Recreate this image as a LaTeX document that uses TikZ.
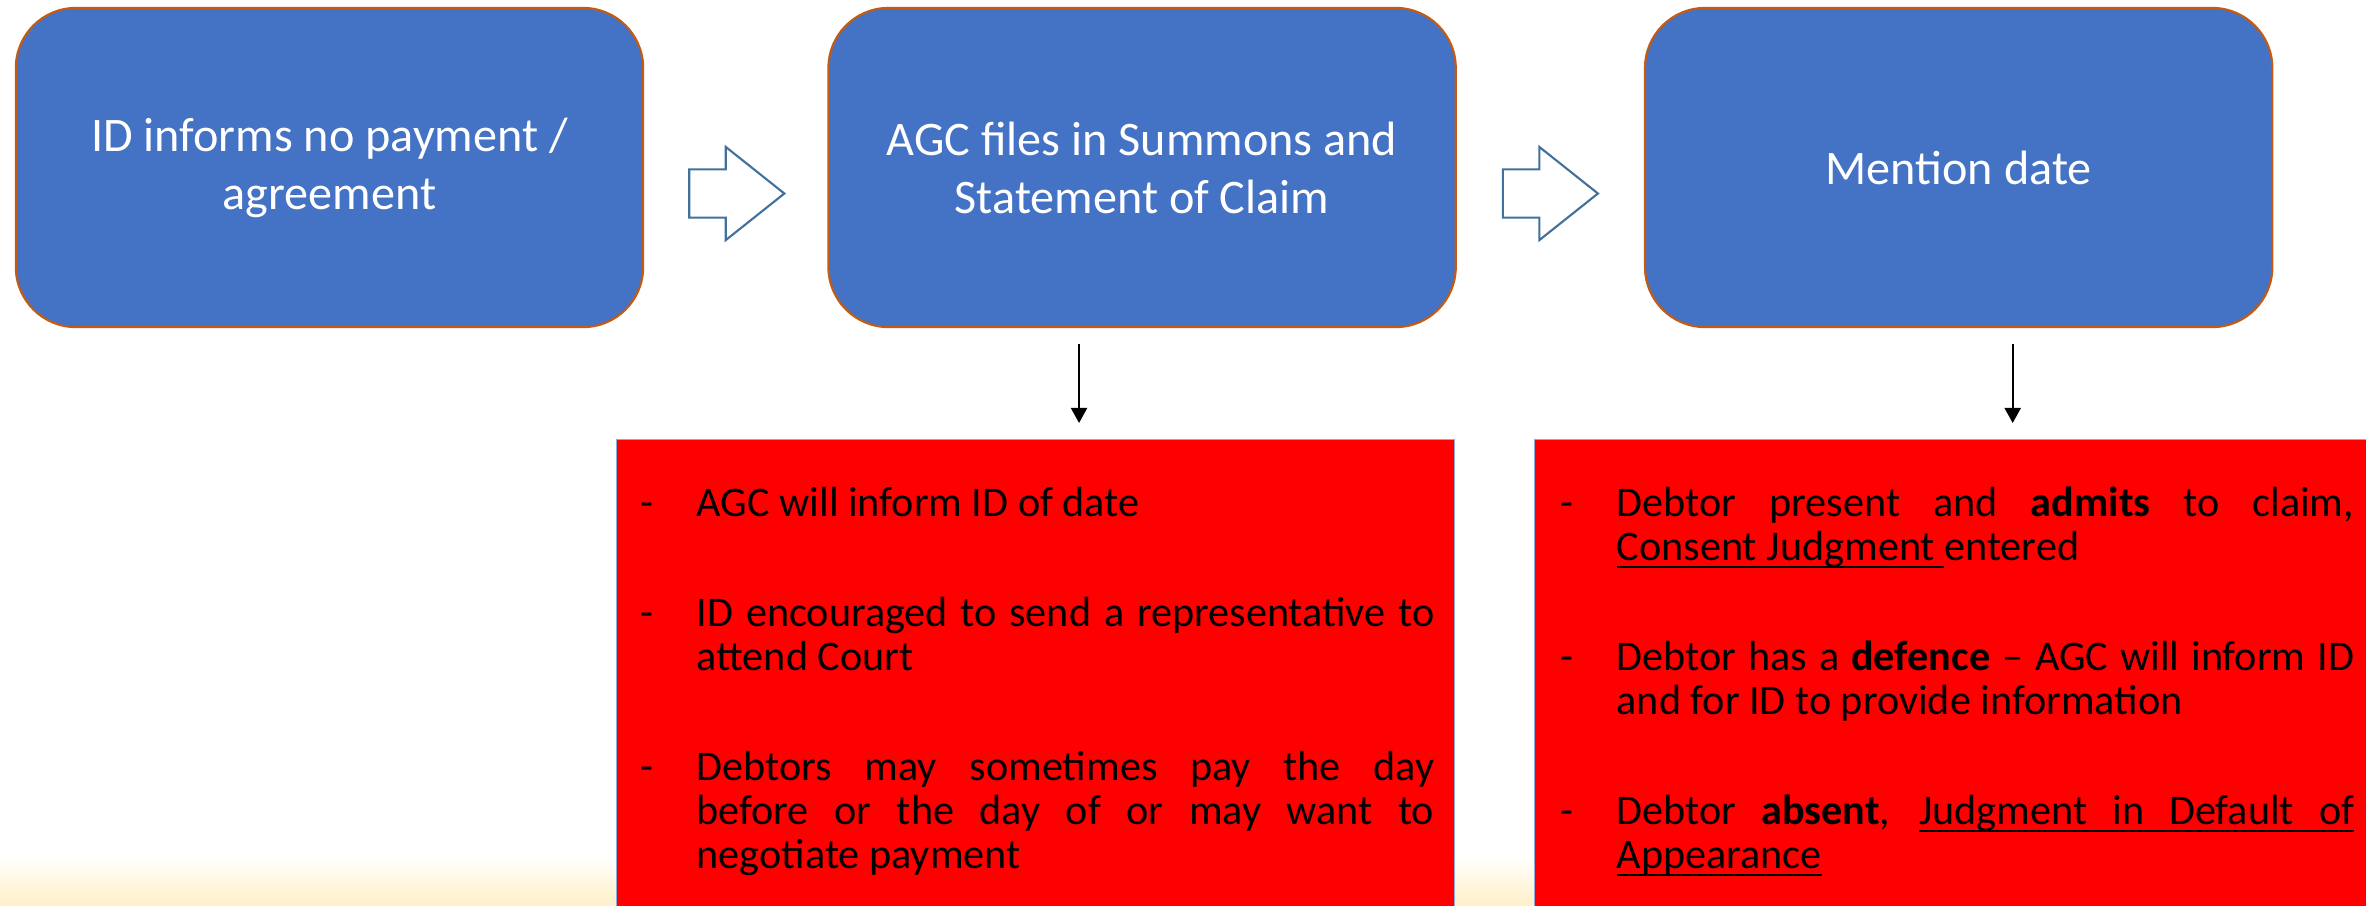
\documentclass[tikz,border=0pt]{standalone}
\usepackage{fontspec}
\setmainfont{Carlito}
\usetikzlibrary{positioning,calc,shapes.arrows,arrows.meta}
\definecolor{stepblue}{HTML}{4472C4}
\definecolor{steprim}{HTML}{C55A11}
\definecolor{arrowrim}{HTML}{41719C}
\definecolor{noterim}{HTML}{8FAADC}
\definecolor{cream}{HTML}{FFF0C8}
\newcommand{\dashitem}{\noindent\llap{\makebox[0.56cm][l]{-}}}
\newcommand{\itemgap}{\par\vspace{18.8pt}}
% underlined word and underlined (stretchable) space
\newcommand{\uword}[1]{\setbox0=\hbox{#1}\rlap{\vrule height -1.5pt depth 2.1pt width \wd0}\box0}
\newcommand{\uspace}{\leaders\hrule height -1.5pt depth 2.1pt\hskip\fontdimen2\font plus \fontdimen3\font minus \fontdimen4\font}

\begin{document}
\begin{tikzpicture}[x=0.01cm, y=-0.01cm,
      stepbox/.style = {shape=rectangle, rounded corners=0.6cm,
        draw=steprim, line width=0.6pt, fill=stepblue, text=white,
        align=center, minimum width=6.27cm, minimum height=3.19cm,
        font=\fontsize{13.7pt}{16.5pt}\selectfont},
      hollowarrow/.style = {shape=single arrow, anchor=tail, draw=arrowrim, fill=white,
        line width=0.6pt, inner xsep=0pt, inner ysep=0.23cm,
        minimum height=0.95cm, single arrow head extend=0.225cm,
        single arrow tip angle=77},
      notebox/.style = {shape=rectangle, anchor=north west, draw=noterim,
        line width=0.4pt, fill=red, minimum height=5cm},
      notetext/.style = {anchor=north west, inner sep=0pt, text width=7.37cm,
        align=justify, font=\fontsize{12pt}{12.5pt}\selectfont},
      flow/.style = {-{Triangle[length=0.15cm,width=0.16cm]}, line width=0.57pt,
        shorten <=0.16cm, shorten >=0.16cm}]
  \clip (0,0) rectangle (2366,905);
  \fill[white] (0,0) rectangle (2366,905);
  \shade[top color=white, bottom color=cream] (0,856) rectangle (2366,905);

  % steps
  \node[stepbox] (inform) at (329.5,167.5) {ID informs no payment /\\agreement};
  \node[stepbox, right=1.83cm of inform] (summons) {AGC files in Summons and\\Statement of Claim};
  \node[stepbox, right=1.87cm of summons] (mention) {Mention date};

  \node[hollowarrow] (passA) at ($(inform.east) + (44,26)$) {};
  \node[hollowarrow] (passB) at ($(summons.east) + (45,26)$) {};

  % notes
  \node[notebox, minimum width=8.37cm] (agcnote) at (616,439) {};
  \node[notebox, minimum width=9cm] (courtnote) at (1534,439) {};

  \node[notetext] (agclist) at ([xshift=0.80cm, yshift=-0.47cm]agcnote.north west) {%
    \tolerance=10000 \hbadness=10000 \hyphenpenalty=10000
    \dashitem AGC will inform ID of date\itemgap
    \dashitem ID encouraged to send a representative to\linebreak attend Court\itemgap
    \dashitem Debtors may sometimes pay the day\linebreak before or the day of or may want to\linebreak negotiate payment};
  \node[notetext] (courtlist) at ([xshift=0.82cm, yshift=-0.47cm]courtnote.north west) {%
    \tolerance=10000 \hbadness=10000 \hyphenpenalty=10000
    \dashitem Debtor present and \textbf{admits} to claim,\linebreak \uword{Consent}\uspace\uword{Judgment}\uspace entered\itemgap
    \dashitem Debtor has a \textbf{defence} – AGC will inform ID\linebreak and for ID to provide information\itemgap
    \dashitem Debtor \textbf{absent}, \uword{Judgment}\uspace\uword{in}\uspace\uword{Default}\uspace\uword{of}\linebreak \uword{Appearance}};

  \draw[flow] ([xshift=-0.63cm]summons.south) -- ([xshift=-0.63cm]summons.south |- agcnote.north);
  \draw[flow] ([xshift=0.54cm]mention.south) -- ([xshift=0.54cm]mention.south |- courtnote.north);
\end{tikzpicture}
\end{document}
